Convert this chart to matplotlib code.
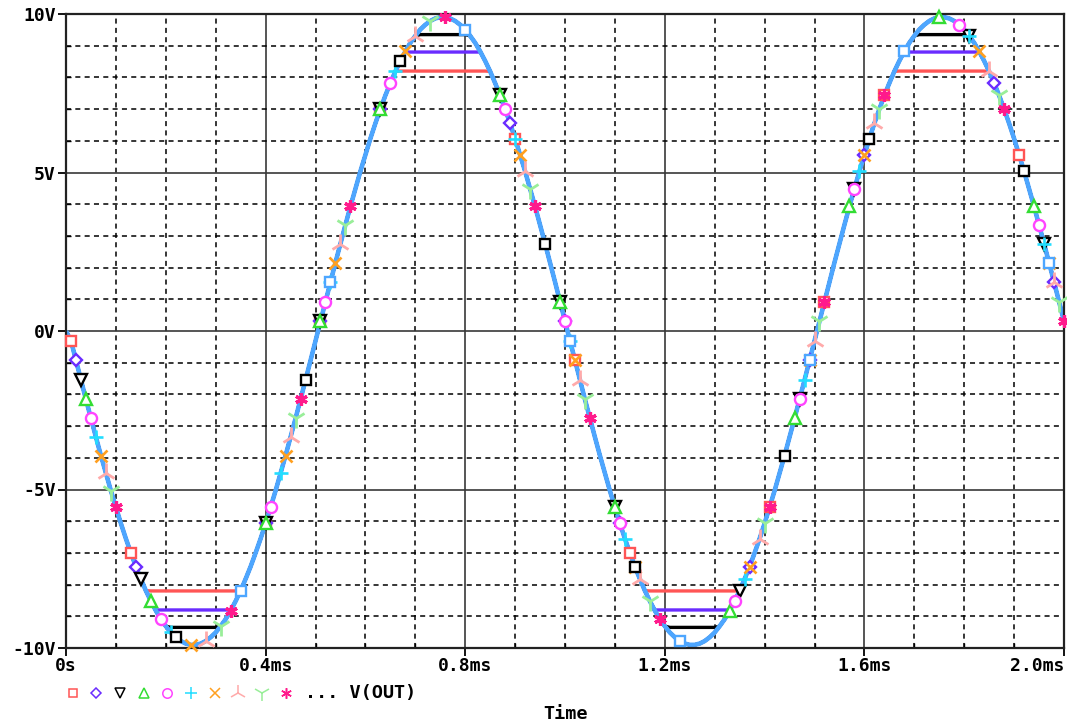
import numpy as np
import matplotlib
matplotlib.use("Agg")
import matplotlib.pyplot as plt
from matplotlib.ticker import MultipleLocator
from matplotlib.lines import Line2D

# ---------------- data ----------------
time_ms = np.round(np.arange(201) * 0.01, 2)          # 0 .. 2.0 ms, 10 us samples

v_out = [0.0,
    -0.31, -0.93, -1.55, -2.16, -2.76, -3.35, -3.93, -4.49, -5.04, -5.56,
    -6.07, -6.55, -7.00, -7.43, -7.82, -8.19, -8.52, -8.82, -9.09, -9.31,
    -9.51, -9.66, -9.78, -9.86, -9.90, -9.90, -9.86, -9.78, -9.66, -9.51,
    -9.31, -9.09, -8.82, -8.52, -8.19, -7.82, -7.43, -7.00, -6.55, -6.07,
    -5.56, -5.04, -4.49, -3.93, -3.35, -2.76, -2.16, -1.55, -0.93, -0.31,
    0.31, 0.93, 1.55, 2.16, 2.76, 3.35, 3.93, 4.49, 5.04, 5.56,
    6.07, 6.55, 7.00, 7.43, 7.82, 8.19, 8.52, 8.82, 9.09, 9.31,
    9.51, 9.66, 9.78, 9.86, 9.90, 9.90, 9.86, 9.78, 9.66, 9.51,
    9.31, 9.09, 8.82, 8.52, 8.19, 7.82, 7.43, 7.00, 6.55, 6.07,
    5.56, 5.04, 4.49, 3.93, 3.35, 2.76, 2.16, 1.55, 0.93, 0.31,
    -0.31, -0.93, -1.55, -2.16, -2.76, -3.35, -3.93, -4.49, -5.04, -5.56,
    -6.07, -6.55, -7.00, -7.43, -7.82, -8.19, -8.52, -8.82, -9.09, -9.31,
    -9.51, -9.66, -9.78, -9.86, -9.90, -9.90, -9.86, -9.78, -9.66, -9.51,
    -9.31, -9.09, -8.82, -8.52, -8.19, -7.82, -7.43, -7.00, -6.55, -6.07,
    -5.56, -5.04, -4.49, -3.93, -3.35, -2.76, -2.16, -1.55, -0.93, -0.31,
    0.31, 0.93, 1.55, 2.16, 2.76, 3.35, 3.93, 4.49, 5.04, 5.56,
    6.07, 6.55, 7.00, 7.43, 7.82, 8.19, 8.52, 8.82, 9.09, 9.31,
    9.51, 9.66, 9.78, 9.86, 9.90, 9.90, 9.86, 9.78, 9.66, 9.51,
    9.31, 9.09, 8.82, 8.52, 8.19, 7.82, 7.43, 7.00, 6.55, 6.07,
    5.56, 5.04, 4.49, 3.93, 3.35, 2.76, 2.16, 1.55, 0.93, 0.31]

# output limit (V) for each swept trace; 10 = no limiting
clip_levels = [8.2, 8.8, 9.35, 10, 10, 10, 10, 10, 10, 10, 10, 10]

x_ticks = [0.0, 0.4, 0.8, 1.2, 1.6, 2.0]
x_labels = ["0s", "0.4ms", "0.8ms", "1.2ms", "1.6ms", "2.0ms"]
y_ticks = [-10, -5, 0, 5, 10]
y_labels = ["-10V", "-5V", "0V", "5V", "10V"]
legend_text = "... V(OUT)"
x_title = "Time"

# ---------------- styles ----------------
colors = ["#ff5555", "#6a2cff", "#000000", "#33dd33", "#ff44ff", "#22ddff",
          "#ffa020", "#ffaaaa", "#99ee99", "#ff1a8c", "#000000", "#4da6ff"]
markers = ["s", "D", "v", "^", "o", "+", "x", "2", "1", (6, 2, 0), "s", "s"]
msizes = [7.5, 6.5, 8, 8, 8, 10, 9, 14, 14, 9, 7.5, 7.5]
mews = [1.7, 1.7, 1.7, 1.7, 1.7, 1.9, 1.9, 2.0, 2.0, 2.3, 1.7, 1.7]
offsets = [0.0102 + 0.0165 * i for i in range(10)] + [0.275, 0.355]
steps = [0.181] * 10 + [0.275, 0.275]
MONO = "DejaVu Sans Mono"

fig = plt.figure(figsize=(10.67, 7.27), dpi=100)
ax = fig.add_axes([66 / 1067, 1 - 648 / 727, 998 / 1067, 634 / 727])
ax.set_xlim(0, 2.0)
ax.set_ylim(-10, 10)

ax.set_xticks(x_ticks)
ax.set_xticklabels(x_labels)
ax.set_yticks(y_ticks)
ax.set_yticklabels(y_labels)
ax.xaxis.set_minor_locator(MultipleLocator(0.1))
ax.yaxis.set_minor_locator(MultipleLocator(1))
for lab in ax.get_xticklabels() + ax.get_yticklabels():
    lab.set_fontfamily(MONO)
    lab.set_fontweight("bold")
    lab.set_fontsize(13)
ax.get_xticklabels()[-1].set_horizontalalignment("right")
ax.tick_params(which="major", direction="out", length=5.5, width=1.3, pad=1)
ax.tick_params(which="minor", direction="in", length=3.5, width=1.0)
ax.tick_params(axis="y", which="major", pad=2)

ax.grid(which="major", color="#383838", lw=1.2, ls="-")
ax.grid(which="minor", color="black", lw=1.1, ls=(0, (3.3, 2.8)))
ax.set_axisbelow(True)
for sp in ax.spines.values():
    sp.set_linewidth(1.6)
    sp.set_color("#222222")

v = np.array(v_out)
traces = [np.clip(v, -c, c) for c in clip_levels]

# lines first
for i, y in enumerate(traces):
    lw = 3.3 if i == len(traces) - 1 else 2.4
    ax.plot(time_ms, y, color=colors[i], lw=lw, zorder=2 + i * 0.01,
            solid_capstyle="butt", solid_joinstyle="round")

# markers on top
for i, y in enumerate(traces):
    ax.plot(time_ms, y, ls="none", marker=markers[i], ms=msizes[i],
            mfc="white", mec=colors[i], mew=mews[i],
            markevery=(offsets[i], steps[i]), zorder=4 + i * 0.01,
            clip_on=False)

# legend row
ly = 1 - 693 / 727
for i in range(10):
    x = (72.5 + 23.7 * i) / 1067
    fig.add_artist(Line2D([x], [ly], transform=fig.transFigure, ls="none",
                          marker=markers[i], ms=msizes[i] * 0.85, mfc="white",
                          mec=colors[i], mew=1.1))
fig.text(305 / 1067, ly, legend_text, fontfamily=MONO, fontweight="bold",
         fontsize=13.3, ha="left", va="center")
fig.text(565 / 1067, 1 - 714 / 727, x_title, fontfamily=MONO,
         fontweight="bold", fontsize=13.3, ha="center", va="center")

fig.savefig("out.png", dpi=100)
